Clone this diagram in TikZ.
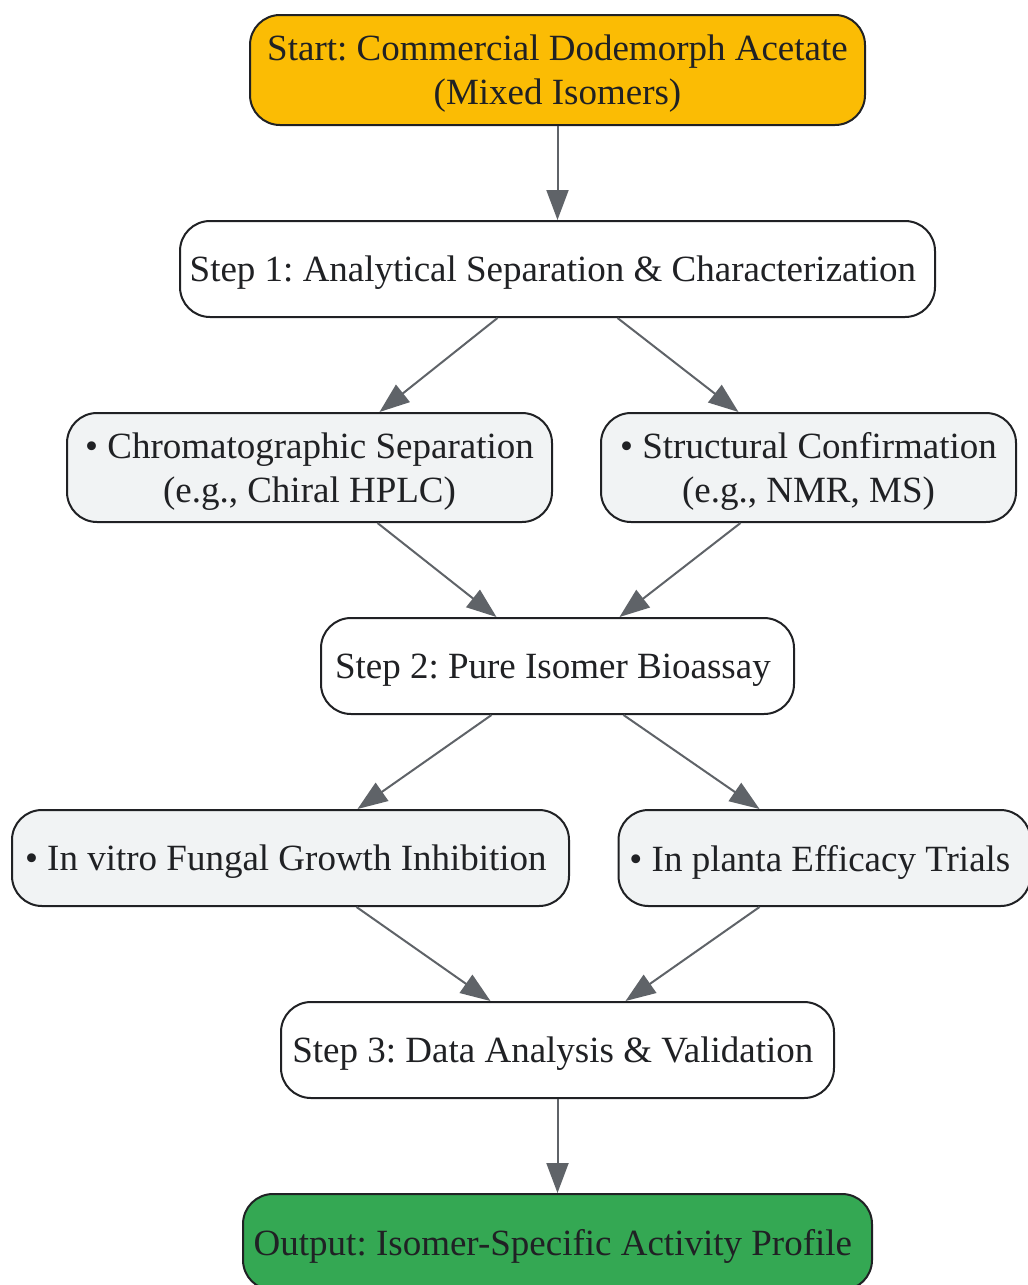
\documentclass[tikz,border=0pt]{standalone}
\usepackage{fontspec}
\setmainfont{Liberation Serif}
\usetikzlibrary{arrows.meta,positioning}
\definecolor{startfill}{HTML}{FBBC04}
\definecolor{outfill}{HTML}{34A853}
\definecolor{subfill}{HTML}{F1F3F4}
\definecolor{edgegray}{HTML}{5F6368}
\definecolor{inkdark}{HTML}{202124}
\frenchspacing
\tikzstyle{stage} = [rectangle, rounded corners=30pt,
                      minimum height=96pt,
                      inner sep=0pt,
                      text depth=0pt,
                      fill=white,
                      draw=inkdark,
                      line width=2pt,
                      text=inkdark,
                      align=center,
                      font=\fontsize{37}{44}\selectfont]
\tikzstyle{substep} = [stage, fill=subfill]
\tikzstyle{flow} = [draw=edgegray, line width=2pt,
                      -{Triangle[length=30pt,width=22pt]}]

\begin{document}
\begin{tikzpicture}[node distance=94pt]
  \useasboundingbox (0,0) rectangle (1028pt,-1285pt);

  \node (start) [stage, fill=startfill, minimum width=615pt, minimum height=110pt]
    at (557.5pt,-70pt) {
    Start: Commercial Dodemorph Acetate\\
    (Mixed Isomers)
  };

  \node (step1) [stage, minimum width=755pt, below=of start] {
    Step 1: Analytical Separation \& Characterization
  };

  \node (chrom) [substep, minimum width=485pt, minimum height=109pt,
    below=of step1, xshift=-248pt] {
    • Chromatographic Separation\\
    (e.g., Chiral HPLC)
  };

  \node (struct) [substep, minimum width=415pt, minimum height=109pt,
    below=of step1, xshift=251pt] {
    • Structural Confirmation\\
    (e.g., NMR, MS)
  };

  \draw[flow] (start) to (step1);
  \draw[flow] ([xshift=-60pt]step1.south) to ([xshift=70pt]chrom.north);
  \draw[flow] ([xshift=60pt]step1.south) to ([xshift=-70pt]struct.north);

  \node (step2) [stage, minimum width=473pt, below=299pt of step1] {
    Step 2: Pure Isomer Bioassay
  };

  \draw[flow] ([xshift=68pt]chrom.south) to ([xshift=-61pt]step2.north);
  \draw[flow] ([xshift=-68pt]struct.south) to ([xshift=62pt]step2.north);

  \node (vitro) [substep, minimum width=557pt, below=of step2, xshift=-267pt] {
    • In vitro Fungal Growth Inhibition
  };

  \node (planta) [substep, minimum width=412pt, below=of step2, xshift=267pt] {
    • In planta Efficacy Trials
  };

  \draw[flow] ([xshift=-66pt]step2.south) to ([xshift=67pt]vitro.north);
  \draw[flow] ([xshift=66pt]step2.south) to ([xshift=-65pt]planta.north);

  \node (step3) [stage, minimum width=553pt, below=286pt of step2] {
    Step 3: Data Analysis \& Validation
  };

  \draw[flow] ([xshift=66pt]vitro.south) to ([xshift=-67pt]step3.north);
  \draw[flow] ([xshift=-65pt]planta.south) to ([xshift=68pt]step3.north);

  \node (output) [stage, fill=outfill, minimum width=629pt, below=of step3] {
    Output: Isomer-Specific Activity Profile
  };

  \draw[flow] (step3) to (output);

\end{tikzpicture}
\end{document}
